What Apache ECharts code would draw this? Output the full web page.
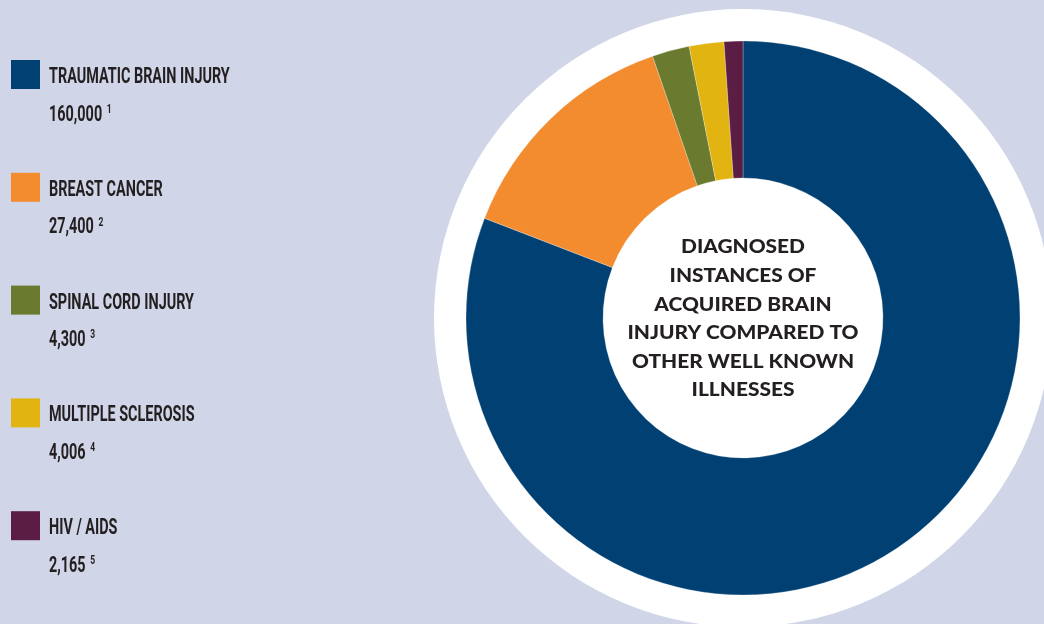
<!DOCTYPE html>
<html>
<head>
<meta charset="utf-8">
<script src="https://cdn.jsdelivr.net/npm/echarts@6/dist/echarts.min.js"></script>
<style>
  html, body { margin: 0; padding: 0; background: #d0d5e8; }
  #chart { width: 1044px; height: 624px; }
</style>
</head>
<body>
<div id="chart"></div>
<script>
// Diagnosed instances per condition
const categories = ['TRAUMATIC BRAIN INJURY', 'BREAST CANCER', 'SPINAL CORD INJURY', 'MULTIPLE SCLEROSIS', 'HIV / AIDS'];
const values = [160000, 27400, 4300, 4006, 2165];
const valueLabels = ['160,000', '27,400', '4,300', '4,006', '2,165'];
const footnotes = ['1', '2', '3', '4', '5'];
const colors = ['#004073', '#f28c2f', '#6a7a2f', '#e2b412', '#5b1d43'];
const centerTitle = ['DIAGNOSED', 'INSTANCES OF', 'ACQUIRED BRAIN', 'INJURY COMPARED TO', 'OTHER WELL KNOWN', 'ILLNESSES'];

const chart = echarts.init(document.getElementById('chart'), null, { renderer: 'canvas' });

const pieCenter = [743, 318];
const textColor = '#231f20';

// Legend: swatch, name and value with footnote marker
const legendTop = 60;
const legendStep = 112.8;
const legendGraphics = [];
categories.forEach((name, i) => {
  const y = legendTop + i * legendStep;
  legendGraphics.push({
    type: 'rect', left: 11, top: y,
    shape: { x: 0, y: 0, width: 29, height: 29 },
    style: { fill: colors[i] }
  });
  legendGraphics.push({
    type: 'text', x: 49, y: y + 17.5, scaleX: 0.655,
    style: {
      text: name, fill: textColor,
      font: 'bold 22px Roboto',
      align: 'left', verticalAlign: 'middle'
    }
  });
  legendGraphics.push({
    type: 'text', x: 49, y: y + 55, scaleX: 0.655,
    style: {
      text: '{v|' + valueLabels[i] + '}{s|' + footnotes[i] + '}',
      align: 'left', verticalAlign: 'middle',
      rich: {
        v: { font: 'bold 22px Roboto', fill: textColor, lineHeight: 24 },
        s: { font: 'bold 13px Roboto', fill: textColor, verticalAlign: 'top', lineHeight: 13, padding: [0, 0, 0, 7] }
      }
    }
  });
});

// Title inside the donut hole
const titleGraphic = {
  type: 'text', x: pieCenter[0], y: pieCenter[1] + 1, scaleX: 1.16,
  style: {
    text: centerTitle.join('\n'),
    font: '900 18px Lato',
    lineHeight: 28.6,
    fill: textColor,
    align: 'center', verticalAlign: 'middle'
  },
  z: 10
};

chart.setOption({
  backgroundColor: '#d0d5e8',
  animation: false,
  series: [
    {
      // white backing disc
      type: 'pie',
      silent: true,
      center: pieCenter,
      radius: [0, 309],
      label: { show: false },
      labelLine: { show: false },
      emphasis: { disabled: true },
      itemStyle: { color: '#ffffff' },
      data: [{ value: 1, name: 'base' }],
      z: 1
    },
    {
      type: 'pie',
      silent: true,
      center: pieCenter,
      radius: [140, 277],
      startAngle: 90,
      clockwise: true,
      label: { show: false },
      labelLine: { show: false },
      emphasis: { disabled: true },
      itemStyle: { borderColor: 'rgba(255,255,255,0.5)', borderWidth: 0.5 },
      data: categories.map((name, i) => ({
        name: name,
        value: values[i],
        itemStyle: { color: colors[i] }
      })),
      z: 2
    }
  ],
  graphic: legendGraphics.concat([titleGraphic])
});
</script>
</body>
</html>
